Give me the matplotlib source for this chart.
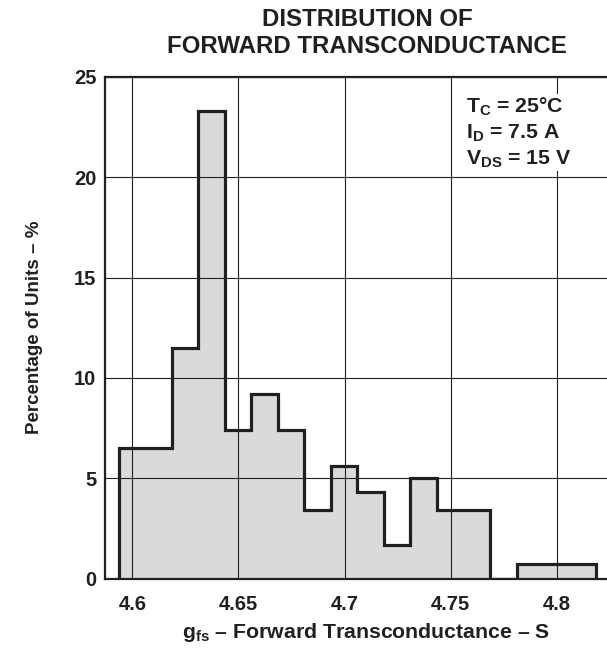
import matplotlib
matplotlib.use('Agg')
import matplotlib.pyplot as plt

# bin edges (S) and percentage of units per bin
edges = [4.5935, 4.606, 4.6185, 4.631, 4.6435, 4.656, 4.6685, 4.681, 4.6935,
         4.706, 4.7185, 4.731, 4.7435, 4.756, 4.7685, 4.781, 4.7935, 4.806, 4.8185]
percent = [6.5, 6.5, 11.5, 23.3, 7.4, 9.2, 7.4, 3.4, 5.6,
           4.3, 1.7, 5.0, 3.4, 3.4, 0.0, 0.75, 0.75, 0.75]

x_ticks = [4.6, 4.65, 4.7, 4.75, 4.8]
x_labels = ['4.6', '4.65', '4.7', '4.75', '4.8']
y_ticks = [0, 5, 10, 15, 20, 25]

plt.rcParams['font.family'] = ['Liberation Sans', 'DejaVu Sans']
plt.rcParams['font.weight'] = 'bold'
plt.rcParams['axes.titleweight'] = 'bold'
plt.rcParams['axes.labelweight'] = 'bold'
plt.rcParams['mathtext.fontset'] = 'custom'
plt.rcParams['mathtext.rm'] = 'Liberation Sans:bold'
plt.rcParams['mathtext.bf'] = 'Liberation Sans:bold'
plt.rcParams['mathtext.it'] = 'Liberation Sans:bold'

fig = plt.figure(figsize=(6.07, 6.49), dpi=100)
ax = fig.add_axes([0.1725, 0.1083, 0.8275, 0.7735])

ink = '#231f20'
ax.stairs(percent, edges, fill=True, color='#d9dadc', zorder=1)
ax.stairs(percent, edges, fill=False, color=ink, linewidth=2.3, zorder=3,
          baseline=0)

ax.set_xlim(4.587, 4.8236)
ax.set_ylim(0, 25)
ax.set_xticks(x_ticks)
ax.set_xticklabels(x_labels)
ax.set_yticks(y_ticks)
ax.tick_params(length=0, labelsize=14.5, colors=ink)
ax.tick_params(axis='x', pad=12)
ax.tick_params(axis='y', pad=6)
ax.grid(True, color=ink, linewidth=0.8)

for side in ['left', 'top', 'bottom']:
    ax.spines[side].set_linewidth(1.6)
    ax.spines[side].set_color(ink)
ax.spines['right'].set_visible(False)

# the original chart is a bit wider than the crop, so the texts sit right of centre
ax.set_xlabel(r'g$_{\mathrm{fs}}$ – Forward Transconductance – S',
              fontsize=15.3, fontweight='bold', color=ink, labelpad=5)
ax.xaxis.label.set_x(0.52)
ax.set_ylabel('Percentage of Units – %', fontsize=13.5, fontweight='bold',
              color=ink, labelpad=22)
ax.set_title('DISTRIBUTION OF\nFORWARD TRANSCONDUCTANCE', fontsize=17.3,
             fontweight='bold', color=ink, pad=17, linespacing=1.25, x=0.522)

ax.text(4.757, 24.05,
        'T$_\\mathrm{C}$ = 25°C\nI$_\\mathrm{D}$ = 7.5 A\nV$_\\mathrm{DS}$ = 15 V',
        fontsize=15.3, fontweight='bold', color=ink, va='top', ha='left',
        linespacing=1.28,
        bbox=dict(facecolor='white', edgecolor='none', pad=1))

fig.savefig('out.png', dpi=100)
